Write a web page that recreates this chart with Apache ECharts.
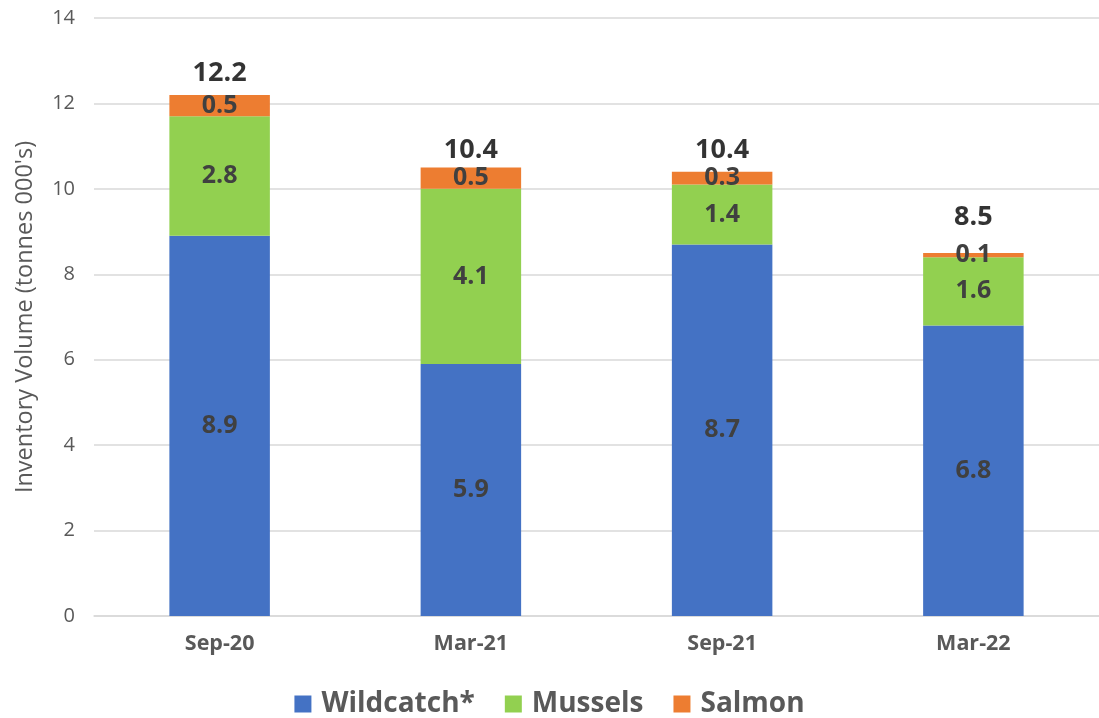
<!DOCTYPE html>
<html>
<head>
<meta charset="utf-8">
<script src="https://cdn.jsdelivr.net/npm/echarts@6/dist/echarts.min.js"></script>
<style>
  html, body { margin: 0; padding: 0; background: #fff; }
  #chart { width: 1099px; height: 718px; }
</style>
</head>
<body>
<div id="chart"></div>
<script>
// Inventory volume by period, tonnes (000's)
const categories = ['Sep-20', 'Mar-21', 'Sep-21', 'Mar-22'];
const wildcatch = [8.9, 5.9, 8.7, 6.8];
const mussels = [2.8, 4.1, 1.4, 1.6];
const salmon = [0.5, 0.5, 0.3, 0.1];
const totals = [12.2, 10.4, 10.4, 8.5];
const yTicks = [0, 2, 4, 6, 8, 10, 12, 14];

const FONT = '"Open Sans", sans-serif';

const insideLabel = {
  show: true,
  position: 'inside',
  color: '#404040',
  fontFamily: FONT,
  fontWeight: 'bold',
  fontSize: 25,
  formatter: p => p.value.toFixed(1)
};

function barSeries(name, data, color) {
  return {
    name: name,
    type: 'bar',
    stack: 'inv',
    barWidth: '40%',
    data: data,
    itemStyle: { color: color },
    label: insideLabel,
    emphasis: { disabled: true }
  };
}

const chart = echarts.init(document.getElementById('chart'));
chart.setOption({
  animation: false,
  grid: { left: 94, right: -12, top: 18, bottom: 102 },
  legend: {
    data: ['Wildcatch*', 'Mussels', 'Salmon'],
    bottom: -5,
    left: 'center',
    itemWidth: 17,
    itemHeight: 17,
    itemGap: 30,
    icon: 'rect',
    textStyle: {
      color: '#595959', fontFamily: FONT, fontSize: 28, fontWeight: 'bold',
      padding: [0, 0, 0, 5]
    }
  },
  xAxis: {
    type: 'category',
    data: categories,
    axisLine: { lineStyle: { color: '#d9d9d9', width: 1.5 } },
    axisTick: { show: false },
    axisLabel: { color: '#595959', fontFamily: FONT, fontWeight: 'bold', fontSize: 21.5, margin: 17 }
  },
  yAxis: {
    type: 'value',
    min: yTicks[0],
    max: yTicks[yTicks.length - 1],
    interval: yTicks[1] - yTicks[0],
    name: "Inventory Volume (tonnes 000's)",
    nameLocation: 'middle',
    nameGap: 57,
    nameTextStyle: { color: '#595959', fontFamily: FONT, fontSize: 23.5 },
    axisLine: { show: false },
    axisTick: { show: false },
    axisLabel: { color: '#595959', fontFamily: FONT, fontSize: 20, margin: 19 },
    splitLine: { lineStyle: { color: '#d9d9d9', width: 1.5 } }
  },
  series: [
    barSeries('Wildcatch*', wildcatch, '#4472C4'),
    barSeries('Mussels', mussels, '#92D050'),
    barSeries('Salmon', salmon, '#ED7D31'),
    {
      name: 'Total',
      type: 'scatter',
      symbolSize: 0,
      silent: true,
      data: totals.map((v, i) => ({
        value: v,
        label: { distance: salmon[i] < 0.2 ? 22 : 8 }
      })),
      label: {
        show: true,
        position: 'top',
        color: '#000',
        fontFamily: FONT,
        fontWeight: 'bold',
        fontSize: 27,
        formatter: p => p.value.toFixed(1)
      }
    }
  ]
});
</script>
</body>
</html>
